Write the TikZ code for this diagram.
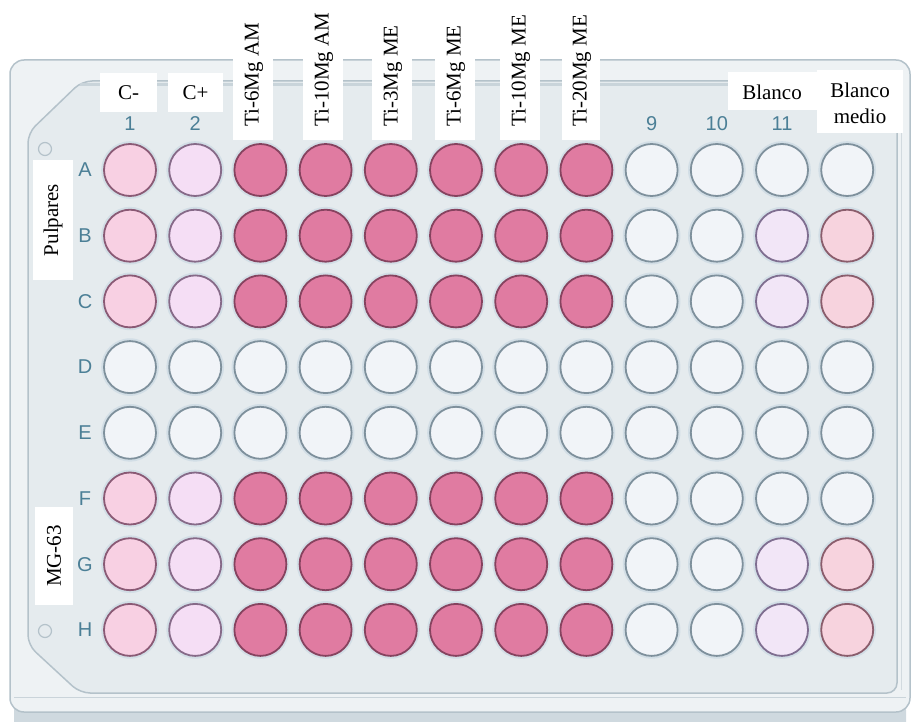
\documentclass[tikz,border=0pt]{standalone}
\usepackage{fontspec}
\setmainfont{Liberation Serif}
\newfontfamily\lsans{Liberation Sans}
\definecolor{plateout}{HTML}{EEF2F4}
\definecolor{platein}{HTML}{E5EBEE}
\definecolor{plateedge}{HTML}{B4C2CA}
\definecolor{topband}{HTML}{C9D4DA}
\definecolor{skirt}{HTML}{CFD9DF}
\definecolor{lettc}{HTML}{4B7F96}
\definecolor{halo}{HTML}{D2DEE6}
\definecolor{wdpF}{HTML}{E07BA1}\definecolor{wdpD}{HTML}{86435F}
\definecolor{wcaF}{HTML}{F8D0E3}\definecolor{wcaD}{HTML}{8A5A75}
\definecolor{wcbF}{HTML}{F5DEF5}\definecolor{wcbD}{HTML}{866A88}
\definecolor{wwhF}{HTML}{F1F4F8}\definecolor{wwhD}{HTML}{7E909C}
\definecolor{wlvF}{HTML}{F2E6F7}\definecolor{wlvD}{HTML}{7F6E90}
\definecolor{wpkF}{HTML}{F7D3DE}\definecolor{wpkD}{HTML}{8A5D6C}
\tikzset{
  well/.style={circle, minimum size=52pt, inner sep=0pt, line width=1.8pt},
  lbl/.style={font=\fontsize{21}{26}\selectfont, inner sep=0pt, text=black},
  rowlbl/.style={font=\lsans\fontsize{20}{24}\selectfont, text=lettc, inner sep=0pt},
  wbox/.style={fill=white},
}
\begin{document}
\begin{tikzpicture}[x=1pt,y=-1pt]
\useasboundingbox (0,0) rectangle (913,722);
% plate
\fill[skirt, rounded corners=10pt] (14,700) rectangle (906,740);
\draw[plateedge, fill=plateout, line width=1.5pt, rounded corners=14pt] (10,60) rectangle (910,712);
\draw[plateedge, fill=platein, line width=1.5pt, rounded corners=10pt]
  (82,81) -- (897,81) -- (897,693) -- (80,693) -- (28,645) -- (28,133) -- cycle;
\draw[topband, line width=3pt] (80,84.5) -- (893,84.5);
\draw[plateedge!60, line width=1pt] (901,88) -- (901,690);
\draw[plateedge!70, line width=1pt] (14,697) -- (906,697);
% holes
\draw[plateedge, line width=1.2pt] (45,149) circle (6.5);
\draw[plateedge, line width=1.2pt] (45,631) circle (6.5);
% wells
\foreach \r/\lst [count=\j from 0] in {
  A/{ca,cb,dp,dp,dp,dp,dp,dp,wh,wh,wh,wh},
  B/{ca,cb,dp,dp,dp,dp,dp,dp,wh,wh,lv,pk},
  C/{ca,cb,dp,dp,dp,dp,dp,dp,wh,wh,lv,pk},
  D/{wh,wh,wh,wh,wh,wh,wh,wh,wh,wh,wh,wh},
  E/{wh,wh,wh,wh,wh,wh,wh,wh,wh,wh,wh,wh},
  F/{ca,cb,dp,dp,dp,dp,dp,dp,wh,wh,wh,wh},
  G/{ca,cb,dp,dp,dp,dp,dp,dp,wh,wh,lv,pk},
  H/{ca,cb,dp,dp,dp,dp,dp,dp,wh,wh,lv,pk}}
{
  \node[rowlbl] (row\r) at (85,{170+\j*65.7}) {\r};
  \foreach \s [count=\i from 0] in \lst {
    \fill[halo] ({130+\i*65.2},{170+\j*65.7}) circle (28.8);
    \node[well, fill=w\s F, draw=w\s D] (w\r\i) at ({130+\i*65.2},{170+\j*65.7}) {};
  }
}
% column numbers
\foreach \n in {1,2,9,10,11} {
  \node[rowlbl] (col\n) at ({130+(\n-1)*65.2},124) {\n};
}
% labels
\fill[wbox] (100,73) rectangle (157,112);
\node[lbl] (cneg) at (128.5,93) {C-};
\fill[wbox] (168,73) rectangle (223,112);
\node[lbl] (cpos) at (195.5,93) {C+};
\foreach \xa/\xb/\t/\nm in {233/273/Ti-6Mg AM/l3, 303/343/Ti-10Mg AM/l4, 372/412/Ti-3Mg ME/l5,
  435/475/Ti-6Mg ME/l6, 500/540/Ti-10Mg ME/l7, 562/600/Ti-20Mg ME/l8} {
  \fill[wbox] (\xa,0) rectangle (\xb,140);
  \node[lbl, rotate=90, anchor=west] (\nm) at ({(\xa+\xb)/2+1},127) {\t};
}
\fill[wbox] (728,72) rectangle (817,110);
\node[lbl] (blanco) at (772,92) {Blanco};
\fill[wbox] (817,70) rectangle (903,133);
\node[lbl, align=center] (bmedio) at (860,103) {Blanco\\medio};
\fill[wbox] (33,160) rectangle (73,280);
\node[lbl, rotate=90] (pulp) at (53,220) {Pulpares};
\fill[wbox] (35,507) rectangle (73,605);
\node[lbl, rotate=90] (mg) at (54,556) {MG-63};
\end{tikzpicture}
\end{document}
